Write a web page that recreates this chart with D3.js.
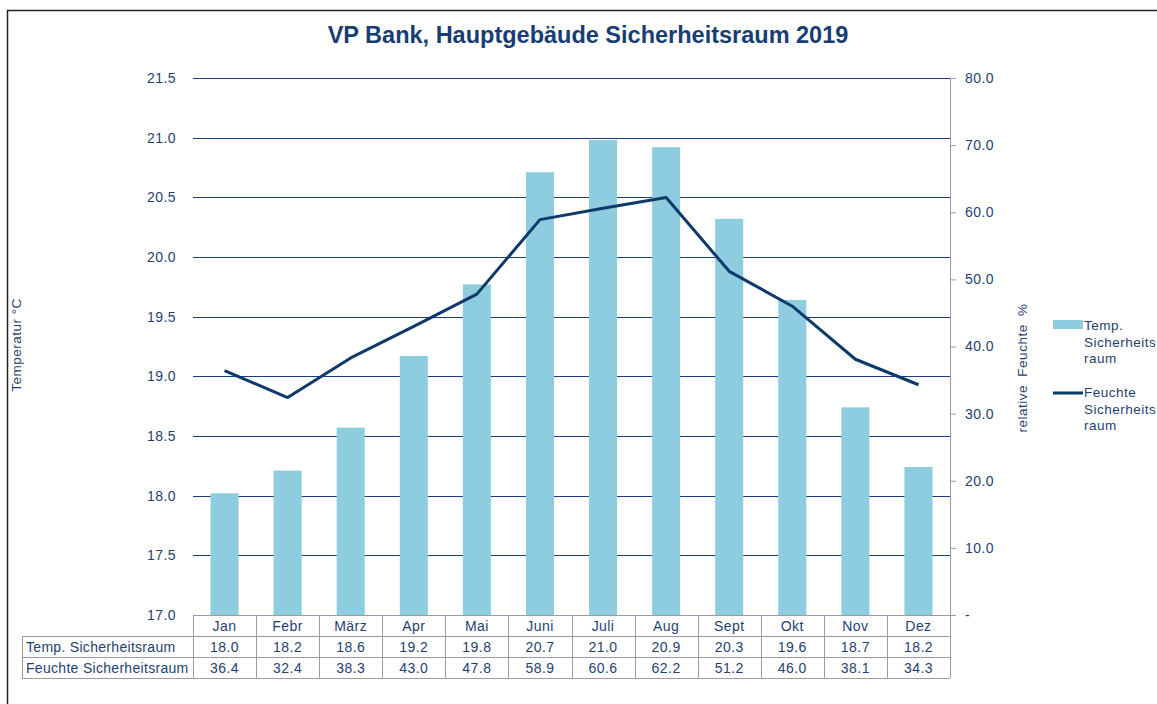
<!DOCTYPE html>
<html><head><meta charset="utf-8">
<script src="https://cdn.jsdelivr.net/npm/d3@7"></script>
<style>body{margin:0;background:#fff}svg{display:block;font-family:"Liberation Sans",Arial,sans-serif}</style>
</head><body><svg id="c" width="1157" height="704"></svg>
<script>
const months = ["Jan","Febr","März","Apr","Mai","Juni","Juli","Aug","Sept","Okt","Nov","Dez"];
const temp = [18.02,18.21,18.57,19.17,19.77,20.71,20.98,20.92,20.32,19.64,18.74,18.24];
const humid = [36.4,32.4,38.3,43.0,47.8,58.9,60.6,62.2,51.2,46.0,38.1,34.3];
const tempLabels = ["18.0","18.2","18.6","19.2","19.8","20.7","21.0","20.9","20.3","19.6","18.7","18.2"];
const humidLabels = ["36.4","32.4","38.3","43.0","47.8","58.9","60.6","62.2","51.2","46.0","38.1","34.3"];
const leftTicks = [17.0,17.5,18.0,18.5,19.0,19.5,20.0,20.5,21.0,21.5];
const rightTicks = [0,10,20,30,40,50,60,70,80];
const seriesNames = ["Temp. Sicherheitsraum","Feuchte Sicherheitsraum"];

const svg = d3.select("#c");
const navy = "#173d72", textC = "#1f3f73", barC = "#8ecde0", lineC = "#0d396b", gridC = "#1b3f72", tblC = "#9a9aac";
const L = 193, R = 950, T = 78, B = 615;
const LS = "0.45";

// frame
svg.append("path").attr("d","M7.5,704 V10.5 H1157").attr("fill","none").attr("stroke","#222").attr("stroke-width",1.5);

svg.append("text").attr("x",588).attr("y",43).attr("text-anchor","middle")
  .attr("font-size",23.5).attr("font-weight","bold").attr("fill",navy)
  .text("VP Bank, Hauptgebäude Sicherheitsraum 2019");

const x = d3.scaleBand().domain(months).range([L,R]).paddingInner(0.555).paddingOuter(0.2775);
const xc = d3.scaleBand().domain(months).range([L,R]);
const yL = d3.scaleLinear().domain([17,21.5]).range([B,T]);
const yR = d3.scaleLinear().domain([0,80]).range([B,T]);

// grid
svg.append("g").selectAll("line").data(leftTicks.slice(1)).join("line")
  .attr("x1",L).attr("x2",R).attr("y1",d=>Math.round(yL(d))+0.5).attr("y2",d=>Math.round(yL(d))+0.5)
  .attr("stroke",gridC).attr("stroke-width",1.2);

// left labels
svg.append("g").selectAll("text").data(leftTicks).join("text")
  .attr("x",176).attr("y",d=>yL(d)+5).attr("text-anchor","end").attr("font-size",14).attr("letter-spacing",LS).attr("fill",textC)
  .text(d=>d.toFixed(1));

// right axis
const ra = svg.append("g").attr("transform",`translate(${R},0)`)
  .call(d3.axisRight(yR).tickValues(rightTicks).tickSize(6).tickPadding(9).tickFormat(d=>d===0?"-":d.toFixed(1)));
ra.select(".domain").attr("stroke","#9a9aac").attr("d",`M0.5,${T}V${B}`);
ra.selectAll(".tick line").attr("stroke","#9a9aac");
ra.selectAll(".tick text").attr("font-size",14).attr("letter-spacing",LS).attr("fill",textC).attr("font-family","Liberation Sans, Arial, sans-serif");

// bars
svg.append("g").selectAll("rect").data(temp).join("rect")
  .attr("x",(d,i)=>x(months[i])).attr("width",x.bandwidth())
  .attr("y",d=>yL(d)).attr("height",d=>B-yL(d)).attr("fill",barC);

// line
svg.append("path").datum(humid)
  .attr("d",d3.line().x((d,i)=>xc(months[i])+xc.bandwidth()/2).y(d=>yR(d)))
  .attr("fill","none").attr("stroke",lineC).attr("stroke-width",3).attr("stroke-linejoin","round");

// axis titles
svg.append("text").attr("transform","translate(21,345) rotate(-90)").attr("text-anchor","middle")
  .attr("font-size",13.5).attr("letter-spacing","0.5").attr("fill",textC).text("Temperatur  °C");
svg.append("text").attr("transform","translate(1027,368) rotate(-90)").attr("text-anchor","middle")
  .attr("font-size",13.5).attr("letter-spacing","0.5").attr("word-spacing","4").attr("fill",textC).text("relative Feuchte %");

// legend
svg.append("rect").attr("x",1053).attr("y",320).attr("width",30).attr("height",9).attr("fill",barC);
svg.append("line").attr("x1",1053).attr("x2",1083).attr("y1",393).attr("y2",393).attr("stroke",lineC).attr("stroke-width",3);
const leg = [["Temp.","Sicherheits","raum"],["Feuchte","Sicherheits","raum"]];
[330,397].forEach((y0,k)=>{
  leg[k].forEach((t,j)=>svg.append("text").attr("x",1084).attr("y",y0+j*16.5).attr("font-size",13.5).attr("letter-spacing","0.5").attr("fill",textC).text(t));
});

// data table
const tg = svg.append("g");
const rowY = [615,636,657,678];
const cw = xc.bandwidth();
tg.append("line").attr("x1",L).attr("x2",R+5).attr("y1",rowY[0]+0.5).attr("y2",rowY[0]+0.5).attr("stroke",tblC);
[1,2,3].forEach(r=>tg.append("line").attr("x1",22).attr("x2",R).attr("y1",rowY[r]+0.5).attr("y2",rowY[r]+0.5).attr("stroke",tblC));
tg.append("line").attr("x1",22.5).attr("x2",22.5).attr("y1",rowY[1]).attr("y2",rowY[3]).attr("stroke",tblC);
months.forEach((m,i)=>tg.append("line").attr("x1",Math.round(xc(m))+0.5).attr("x2",Math.round(xc(m))+0.5).attr("y1",rowY[0]).attr("y2",rowY[3]).attr("stroke",tblC));
tg.append("line").attr("x1",R+0.5).attr("x2",R+0.5).attr("y1",rowY[0]).attr("y2",rowY[3]).attr("stroke",tblC);
const cx = m=>xc(m)+cw/2;
const cell = (sel)=>sel.attr("text-anchor","middle").attr("font-size",14).attr("letter-spacing",LS).attr("fill",textC);
tg.selectAll("text.m").data(months).join("text").attr("x",d=>cx(d)).attr("y",rowY[0]+15.5).call(cell).text(d=>d);
tg.selectAll("text.t").data(tempLabels).join("text").attr("x",(d,i)=>cx(months[i])).attr("y",rowY[1]+15.5).call(cell).text(d=>d);
tg.selectAll("text.h").data(humidLabels).join("text").attr("x",(d,i)=>cx(months[i])).attr("y",rowY[2]+15.5).call(cell).text(d=>d);
seriesNames.forEach((s,k)=>tg.append("text").attr("x",26).attr("y",rowY[k+1]+15.5).attr("font-size",14).attr("letter-spacing","0.3").attr("fill",textC).text(s));
</script></body></html>
